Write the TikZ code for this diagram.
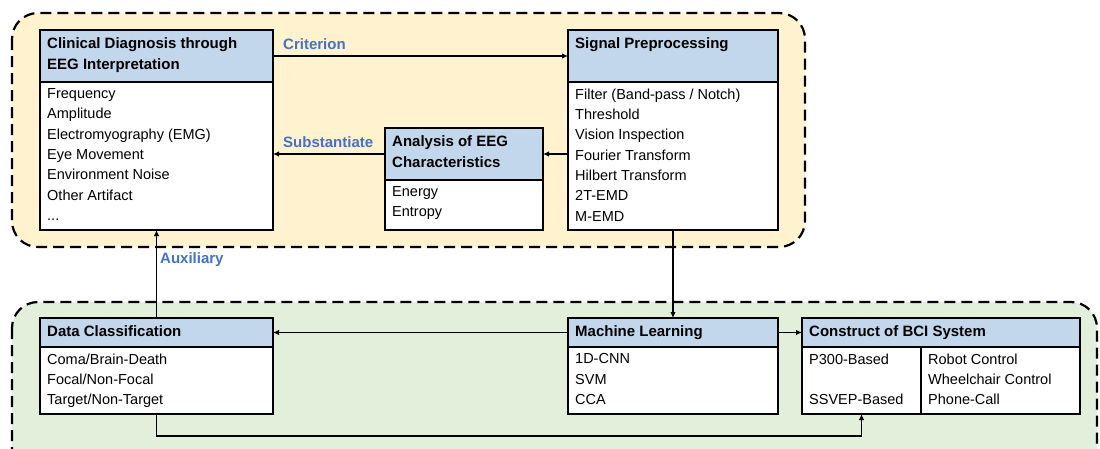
\documentclass[tikz,border=0pt]{standalone}
\usepackage{fontspec}
\setmainfont{Liberation Sans}
\usetikzlibrary{arrows.meta}
\definecolor{headblue}{RGB}{194,214,236}
\definecolor{zoneyellow}{RGB}{255,242,206}
\definecolor{zonegreen}{RGB}{226,239,218}
\definecolor{lblblue}{RGB}{68,114,196}
\begin{document}
\begin{tikzpicture}[x=1pt,y=-1pt,
    box/.style={draw, line width=2.2pt, anchor=north west, inner sep=0pt, outer sep=0pt},
    head/.style={box, fill=headblue},
    body/.style={box, fill=white},
    txt/.style={anchor=north west, align=left, inner xsep=7pt, inner ysep=6.5pt,
      font=\fontsize{14.5}{20.3}\selectfont},
    htxt/.style={txt, inner ysep=7pt, font=\fontsize{15}{21}\selectfont\bfseries},
    lbl/.style={anchor=west, inner sep=0pt, text=lblblue,
      font=\fontsize{15}{17}\selectfont\bfseries},
    arr/.style={-{Latex[length=6pt,width=5.5pt]}, line width=1.7pt},
    zone/.style={dash pattern=on 11pt off 6pt, line width=2.2pt, rounded corners=26pt}]
  \useasboundingbox (0,0) rectangle (1100,448);
  % the two zones
  \draw[zone, fill=zoneyellow] (12,13) rectangle (805,247);
  \draw[zone, fill=zonegreen] (12,302) rectangle (1097,475);

  % upper zone boxes
  \node[head, minimum width=233pt, minimum height=52pt] (clinHead) at (40,30) {};
  \node[body, minimum width=233pt, minimum height=148pt] (clinBody) at (clinHead.south west) {};
  \node[head, minimum width=210pt, minimum height=52pt] (sigHead) at (568,30) {};
  \node[body, minimum width=210pt, minimum height=148pt] (sigBody) at (sigHead.south west) {};
  \node[head, minimum width=158pt, minimum height=52pt] (anaHead) at (385,128) {};
  \node[body, minimum width=158pt, minimum height=50pt] (anaBody) at (anaHead.south west) {};

  % lower zone boxes
  \node[head, minimum width=233pt, minimum height=29pt] (dcHead) at (40,318) {};
  \node[body, minimum width=233pt, minimum height=67pt] (dcBody) at (dcHead.south west) {};
  \node[head, minimum width=210pt, minimum height=29pt] (mlHead) at (568,318) {};
  \node[body, minimum width=210pt, minimum height=67pt] (mlBody) at (mlHead.south west) {};
  \node[head, minimum width=278pt, minimum height=29pt] (bciHead) at (802,318) {};
  \node[body, minimum width=119pt, minimum height=67pt] (bciLeft) at (bciHead.south west) {};
  \node[body, minimum width=159pt, minimum height=67pt] (bciRight) at (bciLeft.north east) {};

  % texts
  \node[htxt] (clinTitle) at (clinHead.north west) {Clinical Diagnosis through\\EEG Interpretation};
  \node[txt] (clinText) at (clinBody.north west) {Frequency\\Amplitude\\Electromyography (EMG)\\Eye Movement\\Environment Noise\\Other Artifact\\...};
  \node[htxt] (sigTitle) at (sigHead.north west) {Signal Preprocessing};
  \node[txt] (sigText) at (sigBody.north west) {Filter (Band-pass / Notch)\\Threshold\\Vision Inspection\\Fourier Transform\\Hilbert Transform\\2T-EMD\\M-EMD};
  \node[htxt] (anaTitle) at (anaHead.north west) {Analysis of EEG\\Characteristics};
  \node[txt] (anaText) at (anaBody.north west) {Energy\\Entropy};
  \node[htxt] (dcTitle) at (dcHead.north west) {Data Classification};
  \node[txt] (dcText) at (dcBody.north west) {Coma/Brain-Death\\Focal/Non-Focal\\Target/Non-Target};
  \node[htxt] (mlTitle) at (mlHead.north west) {Machine Learning};
  \node[txt] (mlText) at (mlBody.north west) {1D-CNN\\SVM\\CCA};
  \node[htxt] (bciTitle) at (bciHead.north west) {Construct of BCI System};
  \node[txt] (bciLText) at (bciLeft.north west) {P300-Based\\[20.3pt]SSVEP-Based};
  \node[txt] (bciRText) at (bciRight.north west) {Robot Control\\Wheelchair Control\\Phone-Call};

  % connectors
  \coordinate (subEnd) at (anaHead.west -| clinBody.east);
  \coordinate (sigOut) at (anaHead.east -| sigBody.west);
  \draw[arr] (clinHead.east) -- (sigHead.west);
  \draw[arr] (anaHead.west) -- (subEnd);
  \draw[arr] (sigOut) -- (anaHead.east);
  \draw[arr] (dcHead.north) -- (clinBody.south);
  \draw[arr] (sigBody.south) -- (mlHead.north);
  \draw[arr] (mlHead.west) -- (dcHead.east);
  \draw[arr] (mlHead.east) -- (bciHead.west);
  \draw[arr] (dcBody.south) -- ++(0,22) -| (bciLeft.south);

  \node[lbl] (critLbl) at (283,44) {Criterion};
  \node[lbl] (subLbl) at (283,142) {Substantiate};
  \node[lbl] (auxLbl) at (160,260) {Auxiliary};
\end{tikzpicture}
\end{document}
